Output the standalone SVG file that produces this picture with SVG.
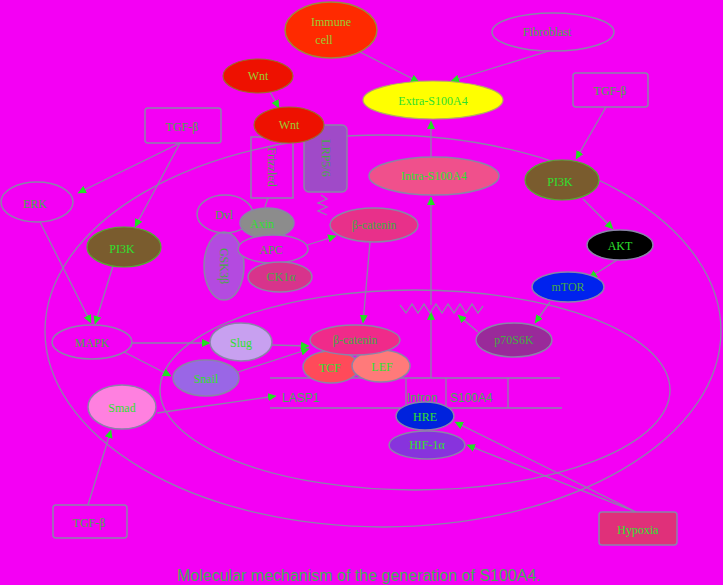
<svg xmlns="http://www.w3.org/2000/svg" width="723" height="585" viewBox="0 0 723 585">
<defs>
<marker id="ah" markerWidth="9" markerHeight="9" refX="8" refY="4.5" orient="auto" markerUnits="userSpaceOnUse">
<path d="M0,0.5 L8.5,4.5 L0,8.5 Z" fill="#22e022"/>
</marker>
<style>
.ln{stroke:#8a84a8;stroke-width:1.3;fill:none}
.ar{stroke:#8a84a8;stroke-width:1.3;fill:none;marker-end:url(#ah)}
.nd{stroke:#8a84a8;stroke-width:1.5}
.t{font-family:"Liberation Serif",serif;fill:#2ee02e;text-anchor:middle;font-size:12px}
.d{fill:#44aa44}
.y{fill:#99cc33}
.s{font-family:"Liberation Sans",sans-serif;fill:#44aa55;font-size:12px}
</style>
</defs>
<rect width="723" height="585" fill="#f400f4"/>

<g id="membranes">
<ellipse cx="383" cy="331" rx="338" ry="196" class="ln"/>
<ellipse cx="415" cy="390" rx="255" ry="100" class="ln"/>
</g>

<g id="connectors">
<line x1="360" y1="52" x2="419" y2="82" class="ar"/>
<line x1="549" y1="51" x2="451" y2="81" class="ar"/>
<line x1="270" y1="92" x2="279" y2="108" class="ar"/>
<line x1="180" y1="143" x2="78" y2="193" class="ar"/>
<line x1="180" y1="143" x2="135" y2="227" class="ar"/>
<line x1="40" y1="222" x2="91" y2="323" class="ar"/>
<line x1="113" y1="266" x2="95" y2="324" class="ar"/>
<line x1="132" y1="343" x2="210" y2="343" class="ar"/>
<line x1="124" y1="352" x2="171" y2="376" class="ar"/>
<line x1="272" y1="345" x2="309" y2="346" class="ar"/>
<line x1="238" y1="372" x2="309" y2="349" class="ar"/>
<line x1="157" y1="413" x2="276" y2="396" class="ar"/>
<line x1="88" y1="505" x2="111" y2="430" class="ar"/>
<line x1="636" y1="512" x2="455" y2="422" class="ar"/>
<line x1="636" y1="512" x2="467" y2="445" class="ar"/>
<line x1="370" y1="242" x2="363" y2="323" class="ar"/>
<line x1="304" y1="246" x2="336" y2="236" class="ar"/>
<line x1="268" y1="198" x2="265" y2="207" class="ln"/>
<line x1="583" y1="199" x2="613" y2="229" class="ar"/>
<line x1="617" y1="260" x2="589" y2="278" class="ar"/>
<line x1="550" y1="302" x2="535" y2="323" class="ar"/>
<line x1="606" y1="107" x2="576" y2="159" class="ar"/>
<line x1="478" y1="332" x2="458" y2="315" class="ar"/>
<line x1="431" y1="378" x2="431" y2="312" class="ar"/>
<line x1="431" y1="305" x2="431" y2="197" class="ar"/>
<line x1="431" y1="157" x2="431" y2="121" class="ar"/>
<polyline class="ln" points="400,305 406,313 412,304 418,313 424,304 430,313 436,304 442,313 448,304 454,313 460,304 466,313 472,304 478,313 483,306"/>
<polyline class="ln" points="321,195 327,199 318,203 327,207 318,211 327,215"/>
</g>

<g id="gene">
<line x1="270" y1="378" x2="560" y2="378" class="ln"/>
<line x1="270" y1="408" x2="562" y2="408" class="ln"/>
<line x1="406" y1="378" x2="406" y2="408" class="ln"/>
<line x1="446" y1="378" x2="446" y2="408" class="ln"/>
<line x1="508" y1="378" x2="508" y2="408" class="ln"/>
<text x="282" y="402" class="s">LASP1</text>
<text x="407" y="402" class="s" font-size="13">Intron</text>
<text x="450" y="402" class="s">S100A4</text>
</g>

<g id="immune"><ellipse cx="331" cy="30" rx="46" ry="28" fill="#ff2a00" stroke="#9a8a40" stroke-width="1.5"/>
<text x="331" y="26" class="t y" font-size="15">Immune</text><text x="324" y="44" class="t y" font-size="15">cell</text></g>
<g id="fibroblast"><ellipse cx="553" cy="32" rx="61" ry="19" fill="none" class="nd"/>
<text x="547" y="36" class="t d" font-size="14">Fibroblast</text></g>
<g id="wnt1"><ellipse cx="258" cy="76" rx="35" ry="17" fill="#ee1100" stroke="#9a6a30" stroke-width="1.2"/>
<text x="258" y="80" class="t y" font-size="13">Wnt</text></g>
<g id="extra"><ellipse cx="433" cy="100" rx="70" ry="19" fill="#ffff00" stroke="#b0b060" stroke-width="1.2"/>
<text x="433" y="105" class="t" font-size="14">Extra-S100A4</text></g>
<g id="tgfb1"><rect x="145" y="108" width="76" height="35" rx="3" fill="none" class="nd"/>
<text x="182" y="131" class="t d" font-size="16">TGF-β</text></g>
<g id="tgfb2"><rect x="573" y="73" width="75" height="34" rx="3" fill="none" class="nd"/>
<text x="610" y="95" class="t d" font-size="16">TGF-β</text></g>
<g id="frizzled"><rect x="251" y="137" width="42" height="61" fill="none" class="nd"/>
<text x="0" y="0" class="t d" font-size="12" transform="translate(268,167) rotate(90)">Frizzled</text></g>
<g id="lrp"><rect x="304" y="125" width="43" height="67" rx="5" fill="#a04ac8" class="nd"/>
<text x="0" y="0" class="t d" font-size="12" transform="translate(322,158) rotate(90)">LRP5/6</text></g>
<g id="wnt2"><ellipse cx="289" cy="125" rx="35" ry="18" fill="#ee1100" stroke="#9a6a30" stroke-width="1.2"/>
<text x="289" y="129" class="t y" font-size="13">Wnt</text></g>
<g id="intra"><ellipse cx="434" cy="176" rx="65" ry="19" fill="#f0508c" class="nd"/>
<text x="434" y="180" class="t" font-size="13">Intra-S100A4</text></g>
<g id="pi3k2"><ellipse cx="562" cy="180" rx="37" ry="20" fill="#7a5c2e" stroke="#55aa33" stroke-width="1.2"/>
<text x="560" y="186" class="t" font-size="16">PI3K</text></g>
<g id="erk"><ellipse cx="37" cy="202" rx="36" ry="20" fill="none" class="nd"/>
<text x="35" y="208" class="t d" font-size="15">ERK</text></g>
<g id="pi3k1"><ellipse cx="124" cy="247" rx="37" ry="20" fill="#7a5c2e" stroke="#55aa33" stroke-width="1.2"/>
<text x="122" y="253" class="t" font-size="16">PI3K</text></g>
<g id="gsk3b"><ellipse cx="224" cy="266" rx="20" ry="34" fill="#b44ae0" class="nd"/>
<text x="0" y="0" class="t d" font-size="12" transform="translate(220,266) rotate(90)">GSK3β</text></g>
<g id="dvl"><ellipse cx="225" cy="214" rx="28" ry="19" fill="none" class="nd"/>
<text x="224" y="219" class="t d" font-size="14">Dvl</text></g>
<g id="axin"><ellipse cx="267" cy="223" rx="27" ry="15" fill="#8c8c8c" class="nd"/>
<text x="262" y="228" class="t" font-size="12">Axin</text></g>
<g id="apc"><ellipse cx="273" cy="249" rx="35" ry="14" fill="#f400f4" class="nd"/>
<text x="271" y="254" class="t d" font-size="12.5">APC</text></g>
<g id="ck1a"><ellipse cx="280" cy="277" rx="32" ry="15" fill="#d8338c" class="nd"/>
<text x="281" y="281" class="t d" font-size="12">CK1α</text></g>
<g id="bcat1"><ellipse cx="374" cy="225" rx="44" ry="17" fill="#e8308a" class="nd"/>
<text x="374" y="229" class="t d" font-size="11">β-catenin</text></g>
<g id="akt"><ellipse cx="620" cy="245" rx="33" ry="15" fill="#000000" class="nd"/>
<text x="620" y="250" class="t" font-size="13">AKT</text></g>
<g id="mtor"><ellipse cx="568" cy="287" rx="36" ry="15" fill="#0022ee" class="nd"/>
<text x="568" y="291" class="t d">mTOR</text></g>
<g id="p70s6k"><ellipse cx="514" cy="340" rx="38" ry="17" fill="#9a2a9a" class="nd"/>
<text x="514" y="344" class="t d" font-size="12">p70S6K</text></g>
<g id="mapk"><ellipse cx="92" cy="342" rx="40" ry="17" fill="none" class="nd"/>
<text x="92" y="347" class="t d" font-size="14">MAPK</text></g>
<g id="slug"><ellipse cx="241" cy="342" rx="31" ry="19" fill="#c8a0f0" class="nd"/>
<text x="241" y="347" class="t" font-size="13">Slug</text></g>
<g id="snail"><ellipse cx="206" cy="378" rx="33" ry="18" fill="#9a66e6" class="nd"/>
<text x="206" y="383" class="t" font-size="13">Snail</text></g>
<g id="tcf"><ellipse cx="331" cy="367" rx="28" ry="16" fill="#ff4a5a" class="nd"/>
<text x="330" y="372" class="t" font-size="13">TCF</text></g>
<g id="lef"><ellipse cx="381" cy="366" rx="29" ry="16" fill="#ff7a7a" class="nd"/>
<text x="382" y="371" class="t" font-size="13">LEF</text></g>
<g id="bcat2"><ellipse cx="355" cy="340" rx="45" ry="15" fill="#f02a8a" class="nd"/>
<text x="355" y="344" class="t d" font-size="11">β-catenin</text></g>
<g id="smad"><ellipse cx="122" cy="407" rx="34" ry="22" fill="#ff80e0" class="nd"/>
<text x="122" y="412" class="t" font-size="14">Smad</text></g>
<g id="hif"><ellipse cx="427" cy="445" rx="38" ry="14" fill="#8833dd" class="nd"/>
<text x="427" y="449" class="t" font-size="12">HIF-1α</text></g>
<g id="hre"><ellipse cx="425" cy="416" rx="29" ry="14" fill="#0022dd" class="nd"/>
<text x="425" y="421" class="t" font-size="12">HRE</text></g>
<g id="tgfb3"><rect x="53" y="505" width="74" height="33" rx="3" fill="none" class="nd"/>
<text x="89" y="527" class="t d" font-size="16">TGF-β</text></g>
<g id="hypoxia"><rect x="599" y="512" width="78" height="33" rx="3" fill="#e0307a" class="nd"/>
<text x="638" y="534" class="t" font-size="14">Hypoxia</text></g>

<text x="177" y="581" font-family="Liberation Sans, sans-serif" font-size="16" fill="#44aa55">Molecular mechanism of the generation of S100A4.</text>
</svg>
